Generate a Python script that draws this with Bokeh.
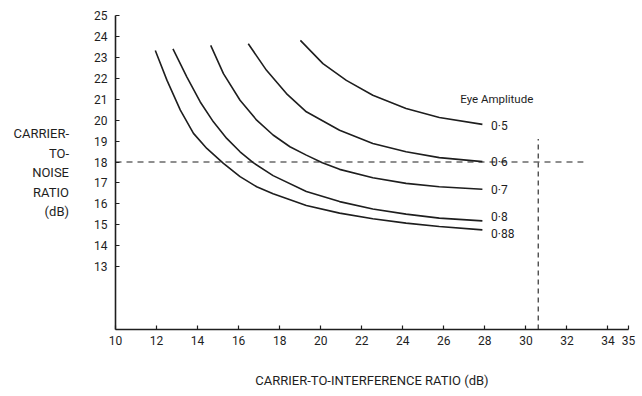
from bokeh.plotting import figure
from bokeh.models import Range1d, FixedTicker, Label
from bokeh.embed import file_html
from bokeh.resources import INLINE

# ---- data ----
x_ticks = [10, 12, 14, 16, 18, 20, 22, 24, 26, 28, 30, 32, 34, 35]
y_ticks = [13, 14, 15, 16, 17, 18, 19, 20, 21, 22, 23, 24, 25]

amp_labels = ["0·5", "0·6", "0·7", "0·8", "0·88"]
label_y = [19.7, 18.0, 16.67, 15.38, 14.57]

c05_x = [19.01, 20.11, 21.25, 22.54, 24.16, 25.78, 27.88]
c05_y = [23.81, 22.70, 21.90, 21.19, 20.56, 20.13, 19.80]

c06_x = [16.47, 17.36, 18.33, 19.30, 20.92, 22.54, 24.16, 25.78, 27.88]
c06_y = [23.65, 22.38, 21.27, 20.40, 19.52, 18.89, 18.49, 18.21, 18.02]

c07_x = [14.64, 15.26, 16.07, 16.88, 17.68, 18.50, 19.30, 20.08, 20.92, 22.54, 24.16, 25.78, 27.88]
c07_y = [23.57, 22.22, 20.95, 20.00, 19.29, 18.73, 18.33, 17.97, 17.65, 17.25, 16.98, 16.82, 16.70]

c08_x = [12.80, 13.48, 14.13, 14.77, 15.42, 16.07, 16.71, 17.68, 19.30, 20.92, 22.54, 24.16, 25.78, 27.88]
c08_y = [23.41, 22.06, 20.87, 19.92, 19.13, 18.49, 17.97, 17.35, 16.59, 16.11, 15.76, 15.51, 15.32, 15.19]

c088_x = [11.94, 12.51, 13.16, 13.80, 14.45, 15.26, 16.07, 16.88, 17.68, 19.30, 20.92, 22.54, 24.16, 25.78, 27.88]
c088_y = [23.33, 21.90, 20.48, 19.37, 18.65, 17.94, 17.30, 16.82, 16.48, 15.92, 15.56, 15.29, 15.08, 14.92, 14.76]

curves_x = [c05_x, c06_x, c07_x, c08_x, c088_x]
curves_y = [c05_y, c06_y, c07_y, c08_y, c088_y]

ref_cn = 18.0
ref_ci = 30.6

FONT = "Roboto"
INK = "#1e1e1e"

p = figure(width=640, height=394, output_backend="svg", toolbar_location=None,
           x_range=Range1d(10, 35), y_range=Range1d(10, 25),
           min_border_left=115, min_border_right=12, min_border_top=15, min_border_bottom=65)
p.outline_line_color = None
p.xgrid.grid_line_color = None
p.ygrid.grid_line_color = None
p.background_fill_color = "white"
p.border_fill_color = "white"

for ax, ticks in ((p.xaxis, x_ticks), (p.yaxis, y_ticks)):
    ax.ticker = FixedTicker(ticks=ticks)
    ax.major_tick_in = 4
    ax.major_tick_out = 0
    ax.minor_tick_in = 0
    ax.minor_tick_out = 0
    ax.axis_line_color = INK
    ax.axis_line_width = 1.6
    ax.major_tick_line_color = INK
    ax.major_tick_line_width = 1.2
    ax.major_label_text_font = FONT
    ax.major_label_text_font_size = "12px"
    ax.major_label_text_color = INK
    ax.axis_label_text_font = FONT
    ax.axis_label_text_font_size = "13px"
    ax.axis_label_text_font_style = "normal"
    ax.axis_label_text_color = INK
p.xaxis.major_label_standoff = 6
p.yaxis.major_label_standoff = 8

p.xaxis.axis_label = "CARRIER-TO-INTERFERENCE RATIO (dB)"
p.xaxis.axis_label_standoff = 25

p.yaxis.axis_label = "CARRIER-\nTO-\nNOISE\nRATIO\n(dB)"
p.yaxis.axis_label_orientation = "horizontal"
p.yaxis.axis_label_text_align = "center"
p.yaxis.axis_label_text_line_height = 1.3
p.yaxis.axis_label_standoff = 22

# dashed reference lines
p.line([10, 32.8], [ref_cn, ref_cn], line_color=INK, line_width=1.1, line_dash="6 5")
p.line([ref_ci, ref_ci], [10, 19.1], line_color=INK, line_width=1.1, line_dash="5 4")

for cx, cy in zip(curves_x, curves_y):
    p.line(cx, cy, line_color=INK, line_width=1.6, line_join="round")

for lab, ly in zip(amp_labels, label_y):
    p.add_layout(Label(x=28.3, y=ly, text=lab, text_font=FONT, text_font_size="12px",
                       text_color=INK, text_baseline="middle", text_align="left"))

p.add_layout(Label(x=26.8, y=21.0, text="Eye Amplitude", text_font=FONT,
                   text_font_size="11.5px", text_color=INK, text_baseline="middle"))

open("out.html", "w").write(file_html(p, INLINE))
